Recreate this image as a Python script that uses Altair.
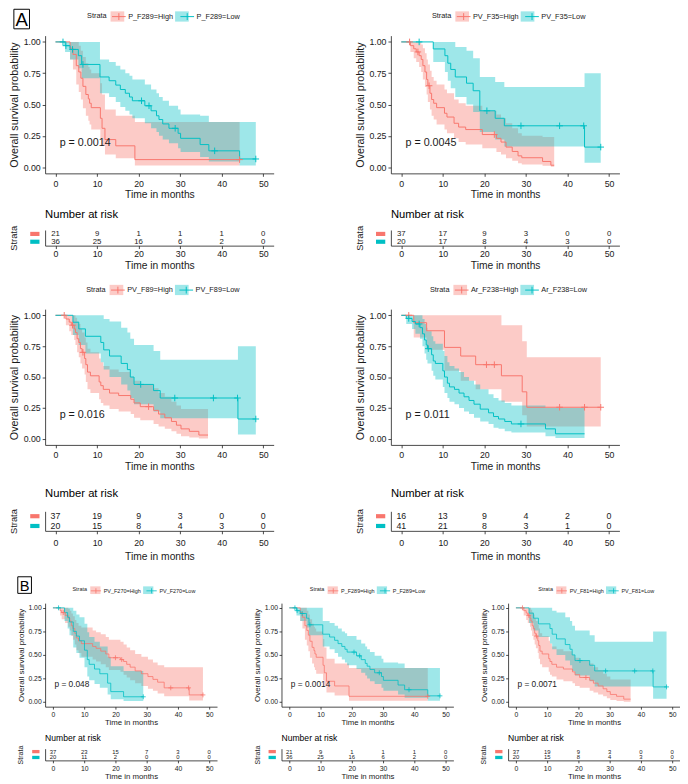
import bisect
import altair as alt
import pandas as pd

FONT = "Liberation Sans"
RED = "#F8766D"
TEAL = "#00BFC4"
INK = "#1a1a1a"
BAND_OPACITY = 0.38

X_TICKS = [0, 10, 20, 30, 40, 50]
Y_TICKS = [0.0, 0.25, 0.50, 0.75, 1.00]
RISK_TIMES = [0, 10, 20, 30, 40, 50]
STRATA_GROUPS = ["High", "Low"]

# ---------------- Panel A1 : P_F289 ----------------
A1_H_T = [0, 3.5, 4.2, 5.0, 5.6, 6.1, 6.6, 7.3, 7.9, 8.2, 8.6, 10.8, 11.2, 11.9, 14.5, 19.1, 44.3]
A1_H_S = [1.0, 0.95, 0.90, 0.81, 0.76, 0.71, 0.645, 0.58, 0.545, 0.51, 0.475, 0.39, 0.31, 0.22, 0.17, 0.06, 0.06]
A1_H_UP = [1.0, 1.0, 1.0, 1.0, 0.97, 0.93, 0.88, 0.83, 0.80, 0.78, 0.75, 0.67, 0.58, 0.46, 0.41, 0.36, 0.36]
A1_H_LO = [1.0, 0.86, 0.78, 0.66, 0.60, 0.54, 0.47, 0.41, 0.37, 0.34, 0.30, 0.23, 0.17, 0.10, 0.07, 0.012, 0.012]
A1_H_CENS = [44.3]
A1_L_T = [0, 2.3, 3.5, 5.5, 6.3, 10.7, 12.9, 14.5, 15.6, 16.8, 17.8, 18.5, 21.5, 23.0, 24.3, 24.9, 25.8, 27.3, 29.5, 30.1, 34.8, 36.9, 44.3, 48.2]
A1_L_S = [1.0, 0.97, 0.94, 0.89, 0.82, 0.72, 0.69, 0.655, 0.62, 0.59, 0.56, 0.53, 0.49, 0.45, 0.41, 0.38, 0.345, 0.31, 0.27, 0.23, 0.18, 0.13, 0.065, 0.065]
A1_L_UP = [1.0, 1.0, 1.0, 1.0, 1.0, 0.86, 0.84, 0.81, 0.78, 0.75, 0.73, 0.70, 0.66, 0.62, 0.59, 0.56, 0.53, 0.49, 0.46, 0.42, 0.41, 0.36, 0.36, 0.36]
A1_L_LO = [1.0, 0.92, 0.86, 0.79, 0.71, 0.59, 0.56, 0.52, 0.48, 0.45, 0.42, 0.39, 0.35, 0.31, 0.28, 0.25, 0.22, 0.19, 0.15, 0.12, 0.08, 0.045, 0.012, 0.012]
A1_L_CENS = [1.8, 2.5, 4.1, 6.6, 20.7, 22.5, 28.8, 38.3, 48.2]
A1_RISK_H = [21, 9, 1, 1, 1, 0]
A1_RISK_L = [36, 25, 16, 6, 2, 0]

# ---------------- Panel A2 : PV_F35 ----------------
A2_H_T = [0, 2.2, 3.0, 3.6, 4.3, 4.8, 5.2, 5.7, 6.1, 6.4, 6.9, 7.3, 7.8, 8.5, 10.4, 11.0, 12.7, 13.8, 15.5, 19.5, 22.9, 24.0, 25.2, 26.7, 28.1, 29.0, 34.0, 36.0, 36.8]
A2_H_S = [1, 0.97, 0.945, 0.92, 0.89, 0.86, 0.81, 0.76, 0.70, 0.65, 0.59, 0.54, 0.51, 0.475, 0.43, 0.40, 0.35, 0.32, 0.30, 0.26, 0.23, 0.20, 0.16, 0.125, 0.09, 0.075, 0.045, 0.015, 0.015]
A2_H_UP = [1, 1, 1, 1, 1, 0.98, 0.95, 0.91, 0.86, 0.82, 0.77, 0.72, 0.69, 0.66, 0.62, 0.59, 0.54, 0.51, 0.49, 0.45, 0.42, 0.39, 0.35, 0.31, 0.27, 0.25, 0.24, 0.24, 0.24]
A2_H_LO = [1, 0.92, 0.87, 0.84, 0.80, 0.76, 0.70, 0.64, 0.58, 0.52, 0.46, 0.41, 0.38, 0.34, 0.30, 0.27, 0.23, 0.20, 0.18, 0.15, 0.12, 0.10, 0.07, 0.05, 0.03, 0.02, 0.01, 0.002, 0.002]
A2_H_CENS = [2.0, 4.0, 6.7, 22.4]
A2_L_T = [0, 7.7, 10.5, 11.2, 11.9, 13.0, 15.7, 17.3, 18.9, 22.6, 24.8, 44.1, 48.0]
A2_L_S = [1, 0.944, 0.89, 0.83, 0.78, 0.72, 0.67, 0.61, 0.45, 0.39, 0.33, 0.16, 0.16]
A2_L_UP = [1, 1, 1, 1, 1, 0.96, 0.93, 0.87, 0.72, 0.68, 0.64, 0.75, 0.75]
A2_L_LO = [1, 0.84, 0.76, 0.69, 0.63, 0.56, 0.50, 0.44, 0.28, 0.22, 0.165, 0.035, 0.035]
A2_L_CENS = [4.3, 20.6, 28.8, 38.1, 43.9, 48.0]
A2_RISK_H = [37, 17, 9, 3, 0, 0]
A2_RISK_L = [20, 17, 8, 4, 3, 0]

# ---------------- Panel A3 : PV_F89 ----------------
A3_H_T = [0, 2.5, 3.3, 3.8, 4.5, 4.8, 5.2, 5.6, 6.0, 6.4, 7.0, 7.3, 7.7, 8.4, 10.5, 10.9, 11.5, 13.0, 15.2, 18.1, 18.9, 20.4, 23.6, 24.8, 26.3, 27.9, 29.1, 30.2, 32.2, 34.5, 36.7]
A3_H_S = [1, 0.97, 0.945, 0.92, 0.89, 0.86, 0.81, 0.78, 0.73, 0.70, 0.65, 0.60, 0.54, 0.51, 0.46, 0.43, 0.40, 0.37, 0.35, 0.32, 0.29, 0.26, 0.23, 0.20, 0.17, 0.14, 0.11, 0.08, 0.06, 0.03, 0.03]
A3_H_UP = [1, 1, 1, 1, 1, 0.98, 0.95, 0.93, 0.89, 0.86, 0.82, 0.78, 0.73, 0.70, 0.65, 0.62, 0.59, 0.56, 0.54, 0.50, 0.47, 0.44, 0.41, 0.37, 0.34, 0.30, 0.27, 0.24, 0.24, 0.24, 0.24]
A3_H_LO = [1, 0.92, 0.87, 0.84, 0.80, 0.76, 0.70, 0.66, 0.61, 0.57, 0.52, 0.46, 0.40, 0.37, 0.32, 0.29, 0.27, 0.24, 0.22, 0.20, 0.17, 0.15, 0.12, 0.10, 0.08, 0.06, 0.04, 0.02, 0.01, 0.002, 0.002]
A3_H_CENS = [2.1, 4.1, 6.6, 22.4]
A3_L_T = [0, 4.2, 5.6, 7.2, 10.9, 11.6, 13.0, 15.8, 17.3, 18.0, 18.9, 23.6, 25.2, 43.9, 48.2]
A3_L_S = [1, 0.944, 0.89, 0.83, 0.78, 0.72, 0.67, 0.61, 0.56, 0.50, 0.44, 0.39, 0.33, 0.16, 0.16]
A3_L_UP = [1, 1, 1, 1, 1, 0.97, 0.95, 0.90, 0.86, 0.81, 0.76, 0.71, 0.64, 0.75, 0.75]
A3_L_LO = [1, 0.84, 0.76, 0.69, 0.62, 0.56, 0.50, 0.44, 0.39, 0.33, 0.28, 0.22, 0.165, 0.035, 0.035]
A3_L_CENS = [20.5, 28.7, 38.0, 43.8, 48.2]
A3_RISK_H = [37, 19, 9, 3, 0, 0]
A3_RISK_L = [20, 15, 8, 4, 3, 0]

# ---------------- Panel A4 : Ar_F238 ----------------
A4_H_T = [0, 3.0, 6.1, 10.4, 14.3, 17.9, 24.1, 29.1, 30.2, 48.0]
A4_H_S = [1.0, 0.94, 0.875, 0.74, 0.67, 0.60, 0.51, 0.38, 0.255, 0.255]
A4_H_UP = [1.0, 1.0, 1.0, 1.0, 1.0, 1.0, 0.92, 0.79, 0.66, 0.66]
A4_H_LO = [1.0, 0.82, 0.72, 0.55, 0.47, 0.40, 0.30, 0.19, 0.10, 0.10]
A4_H_CENS = [1.8, 20.5, 22.4, 38.1, 44.1, 48.0]
A4_L_T = [0, 1.2, 2.6, 3.4, 4.5, 5.1, 5.6, 6.0, 6.3, 7.3, 7.7, 8.2, 10.0, 10.4, 11.1, 11.6, 12.8, 13.9, 15.1, 16.3, 17.5, 19.0, 21.0, 22.2, 23.4, 24.9, 26.5, 34.7, 37.1, 44.1]
A4_L_S = [1, 0.975, 0.95, 0.93, 0.90, 0.85, 0.80, 0.76, 0.73, 0.68, 0.63, 0.61, 0.55, 0.50, 0.45, 0.42, 0.40, 0.37, 0.34, 0.31, 0.28, 0.24, 0.21, 0.18, 0.16, 0.14, 0.12, 0.08, 0.04, 0.04]
A4_L_UP = [1, 1, 1, 1, 1, 0.97, 0.93, 0.90, 0.87, 0.83, 0.79, 0.77, 0.71, 0.67, 0.62, 0.59, 0.57, 0.54, 0.50, 0.47, 0.44, 0.40, 0.36, 0.33, 0.31, 0.29, 0.27, 0.25, 0.25, 0.25]
A4_L_LO = [1, 0.93, 0.89, 0.85, 0.81, 0.75, 0.69, 0.64, 0.61, 0.55, 0.51, 0.48, 0.42, 0.37, 0.33, 0.30, 0.28, 0.25, 0.22, 0.20, 0.17, 0.14, 0.12, 0.09, 0.08, 0.06, 0.05, 0.02, 0.006, 0.006]
A4_L_CENS = [1.8, 4.3, 6.5, 28.8]
A4_RISK_H = [16, 13, 9, 4, 2, 0]
A4_RISK_L = [41, 21, 8, 3, 1, 0]

# ---------------- Panel B1 : PV_F270 ----------------
B1_H_T = [0, 2.3, 2.8, 3.9, 4.9, 5.4, 5.9, 6.4, 7.0, 7.5, 8.2, 9.1, 12.7, 13.8, 15.3, 16.9, 17.9, 21.6, 22.6, 23.6, 24.7, 26.3, 28.3, 30.4, 32.0, 33.5, 35.6, 43.6, 48.0]
B1_H_S = [1, 0.97, 0.95, 0.92, 0.89, 0.86, 0.81, 0.78, 0.73, 0.68, 0.65, 0.62, 0.59, 0.57, 0.54, 0.51, 0.47, 0.45, 0.43, 0.40, 0.37, 0.33, 0.30, 0.27, 0.24, 0.21, 0.15, 0.075, 0.075]
B1_H_UP = [1, 1, 1, 1, 0.99, 0.97, 0.94, 0.91, 0.87, 0.84, 0.81, 0.79, 0.76, 0.74, 0.72, 0.69, 0.66, 0.64, 0.61, 0.58, 0.55, 0.51, 0.48, 0.45, 0.42, 0.39, 0.37, 0.37, 0.37]
B1_H_LO = [1, 0.92, 0.88, 0.84, 0.80, 0.76, 0.70, 0.66, 0.61, 0.55, 0.52, 0.48, 0.45, 0.43, 0.40, 0.37, 0.34, 0.32, 0.29, 0.26, 0.23, 0.20, 0.17, 0.14, 0.12, 0.09, 0.06, 0.015, 0.015]
B1_H_CENS = [3.3, 20.0, 22.0, 37.7, 43.4, 48.0]
B1_L_T = [0, 3.7, 4.7, 5.3, 6.5, 7.5, 8.5, 10.1, 11.0, 11.6, 13.3, 15.0, 17.5, 18.5, 22.6, 28.9]
B1_L_S = [1, 0.95, 0.90, 0.85, 0.75, 0.70, 0.65, 0.55, 0.45, 0.40, 0.35, 0.30, 0.20, 0.11, 0.055, 0.055]
B1_L_UP = [1, 1, 1, 1, 0.97, 0.93, 0.90, 0.83, 0.74, 0.69, 0.64, 0.59, 0.48, 0.38, 0.33, 0.33]
B1_L_LO = [1, 0.86, 0.78, 0.71, 0.58, 0.52, 0.47, 0.37, 0.27, 0.23, 0.19, 0.15, 0.08, 0.03, 0.01, 0.01]
B1_L_CENS = [1.8, 28.9]
B1_RISK_H = [37, 23, 15, 7, 3, 0]
B1_RISK_L = [20, 11, 2, 0, 0, 0]

# B2 (P_F289) shows the same curves as A1; B3 (PV_F81) the same as A3.

PLUS_PATH = "M-1,0H1M0,-1V1"
KEY_LINE_PATH = "M-1,0H1M0,-0.5V0.5"
KEY_BOX_PATH = "M-1,-0.75H1V0.75H-1Z"
KEY_BAR_PATH = "M-1,-0.45H1V0.45H-1Z"

# Arial / Liberation Sans advance widths (1/1000 em), used only to line up the two legend layers
GLYPH_W = {"P": 667, "_": 556, "F": 611, "V": 667, "A": 667, "r": 333, "=": 584, "H": 722,
           "i": 222, "g": 556, "h": 556, "L": 556, "o": 556, "w": 722, "S": 667, "t": 278,
           "a": 556}


def text_w(s, size):
    return sum(GLYPH_W.get(c, 556) for c in s) * size / 1000.0


STY_A = dict(W=234, tick_font=9, ytitle_font=11, xtitle_font=10.5, tick=3, xlab_pad=3, ylab_pad=2,
             xtitle_pad=2, ytitle_pad=2, yext=24, leg_font=7.5, leg_sym=196, leg_y=-27,
             leg_tpad=4, leg_cpad=4, p_font=11, px=1.0, lw=1.0, cens=45, nar_font=11.5,
             strata_font=9.5, strata_pad=3.5, bar_size=90, bar_off=10.5,
             box=(-32, -16, -27, -7), box_font=19)
STY_B = dict(W=176, tick_font=7, ytitle_font=8.2, xtitle_font=8, tick=2.5, xlab_pad=2, ylab_pad=1.5,
             xtitle_pad=1, ytitle_pad=2, yext=18, leg_font=5.6, leg_sym=110, leg_y=-19,
             leg_tpad=3, leg_cpad=3, p_font=8.5, px=0.5, lw=0.8, cens=25, nar_font=8.8,
             strata_font=7.2, strata_pad=3, bar_size=56, bar_off=9.5,
             box=(-28, -14, -27, -10), box_font=15)

ROW1 = dict(H=141, rh=16, sp=8, toff=5, rlab_pad=1, rtitle_pad=2, rfont=8)
ROW2 = dict(H=139, rh=20, sp=16, toff=9, rlab_pad=5, rtitle_pad=4, rfont=9)
ROWB = dict(H=106, rh=12, sp=7, toff=2, rlab_pad=2, rtitle_pad=1, rfont=6)

XS = dict(domain=[-2.5, 52.5], nice=False, zero=False)
YS = dict(domain=[-0.05, 1.05], nice=False, zero=False)


def curves_df(var, high, low):
    rows = []
    for grp, arrs in zip(STRATA_GROUPS, (high, low)):
        lab = f"{var}={grp}"
        t, s, up, lo, _ = arrs
        assert len(t) == len(s) == len(up) == len(lo), (var, grp)
        for a, b, c, d in zip(t, s, up, lo):
            rows.append({"t": a, "S": b, "up": c, "lo": d, "strata": lab, "strata_f": lab})
    return pd.DataFrame(rows)


def censor_df(var, high, low):
    rows = []
    for grp, arrs in zip(STRATA_GROUPS, (high, low)):
        lab = f"{var}={grp}"
        t, s, _, _, cens = arrs
        for c in cens:
            i = max(bisect.bisect_right(t, c) - 1, 0)
            rows.append({"t": c, "S": s[i], "strata": lab})
    return pd.DataFrame(rows)


AX_COMMON = dict(grid=False, domainColor=INK, tickColor=INK, labelColor=INK, titleColor=INK,
                 labelFont=FONT, titleFont=FONT, titleFontWeight="normal",
                 domainWidth=0.8, tickWidth=0.8)


def km_chart(P, S, R):
    W = S["W"]
    cur = curves_df(P["var"], P["high"], P["low"])
    cen = censor_df(P["var"], P["high"], P["low"])
    xax = alt.Axis(values=X_TICKS, title="Time in months", labelFontSize=S["tick_font"],
                   titleFontSize=S["xtitle_font"], tickSize=S["tick"],
                   labelPadding=S["xlab_pad"], titlePadding=S["xtitle_pad"], **AX_COMMON)
    yax = alt.Axis(values=Y_TICKS, format=".2f", title="Overall survival probability",
                   labelFontSize=S["tick_font"], titleFontSize=S["ytitle_font"], tickSize=S["tick"],
                   labelPadding=S["ylab_pad"], titlePadding=S["ytitle_pad"],
                   minExtent=S["yext"], maxExtent=S["yext"], **AX_COMMON)
    lab_hi = f"{P['var']}=High"
    fs = S["leg_font"]
    leg_line = alt.Legend(orient="none", legendX=P["lx"], legendY=S["leg_y"],
                          direction="horizontal", title="Strata", titleOrient="left",
                          titleAnchor="middle", titleBaseline="middle", titleFontSize=fs,
                          titleFontWeight="normal", titleFont=FONT, titleColor=INK,
                          titlePadding=S["leg_tpad"], labelFontSize=fs, labelFont=FONT,
                          labelColor=INK, labelOffset=2, columnPadding=S["leg_cpad"],
                          symbolSize=S["leg_sym"], symbolType=KEY_LINE_PATH,
                          symbolStrokeWidth=S["lw"], symbolOpacity=1, padding=0,
                          labelLimit=400, titleLimit=400)
    leg_box = alt.Legend(orient="none",
                         legendX=P["lx"] + text_w("Strata", fs) + S["leg_tpad"],
                         legendY=S["leg_y"], direction="horizontal", title=None,
                         labelExpr="''", labelOffset=0,
                         columnPadding=2 + text_w(lab_hi, fs) + S["leg_cpad"],
                         symbolSize=S["leg_sym"], symbolType=KEY_BOX_PATH, symbolStrokeWidth=0,
                         symbolOpacity=BAND_OPACITY, padding=0)
    xenc = alt.X("t:Q", scale=alt.Scale(**XS), axis=xax)

    band = alt.Chart(cur).mark_area(interpolate="step-after", opacity=BAND_OPACITY).encode(
        x=xenc,
        y=alt.Y("lo:Q", scale=alt.Scale(**YS), axis=yax),
        y2="up:Q",
        fill=alt.Fill("strata_f:N", scale=alt.Scale(range=[RED, TEAL]), legend=leg_box),
    )
    line = alt.Chart(cur).mark_line(interpolate="step-after", strokeWidth=S["lw"]).encode(
        x=xenc,
        y=alt.Y("S:Q", scale=alt.Scale(**YS), axis=yax),
        stroke=alt.Stroke("strata:N", scale=alt.Scale(range=[RED, TEAL]), legend=leg_line),
    )
    cens = alt.Chart(cen).mark_point(shape=PLUS_PATH, size=S["cens"], strokeWidth=S["lw"],
                                     filled=False, opacity=1).encode(
        x=xenc,
        y=alt.Y("S:Q", scale=alt.Scale(**YS), axis=yax),
        stroke=alt.Stroke("strata:N", scale=alt.Scale(range=[RED, TEAL]), legend=None),
    )
    pdf = pd.DataFrame({"t": [S["px"]], "S": [0.19], "label": [f"p = {P['p']}"]})
    ptxt = alt.Chart(pdf).mark_text(align="left", baseline="middle", fontSize=S["p_font"],
                                    font=FONT, color=INK).encode(
        x=xenc, y=alt.Y("S:Q", scale=alt.Scale(**YS), axis=yax), text="label:N")

    layers = [band, line, cens, ptxt]
    bx0, bx1, by0, by1 = S["box"]
    bdf = pd.DataFrame({"lab": [P["box"]]})
    if P["show_box"]:
        layers.append(alt.Chart(bdf).mark_rect(fill="transparent", stroke="#000000",
                                               strokeWidth=1).encode(
            x=alt.value(bx0), x2=alt.value(bx1), y=alt.value(by0), y2=alt.value(by1)))
        layers.append(alt.Chart(bdf).mark_text(fontSize=S["box_font"], font=FONT, align="center",
                                               baseline="middle", color="#000000").encode(
            x=alt.value((bx0 + bx1) / 2), y=alt.value((by0 + by1) / 2 + 1), text="lab:N"))
    else:
        # invisible spacer so that all panels of a row share the same top edge
        layers.append(alt.Chart(bdf).mark_rect(fill="transparent", strokeOpacity=0).encode(
            x=alt.value(bx0), x2=alt.value(bx1), y=alt.value(by0), y2=alt.value(by1)))

    return alt.layer(*layers).properties(width=W, height=R["H"])


def risk_chart(P, S, R):
    W = S["W"]
    df = pd.DataFrame({
        "time": RISK_TIMES * 2,
        "grp": [STRATA_GROUPS[0]] * len(RISK_TIMES) + [STRATA_GROUPS[1]] * len(RISK_TIMES),
        "n": P["rh"] + P["rl"],
    })
    xax = alt.Axis(values=X_TICKS, title="Time in months", labelFontSize=S["tick_font"],
                   titleFontSize=S["xtitle_font"], tickSize=S["tick"],
                   labelPadding=R["rlab_pad"], titlePadding=R["rtitle_pad"], **AX_COMMON)
    yax = alt.Axis(title="Strata", labels=False, ticks=False, minExtent=S["yext"],
                   maxExtent=S["yext"], titleFontSize=S["strata_font"],
                   titlePadding=S["strata_pad"], titleFontWeight="normal", titleFont=FONT,
                   titleColor=INK, domainColor=INK, domainWidth=0.8, grid=False)
    yenc = alt.Y("grp:N", scale=alt.Scale(domain=STRATA_GROUPS), axis=yax)
    nums = alt.Chart(df).mark_text(font=FONT, fontSize=R["rfont"], color=INK,
                                   baseline="middle").encode(
        x=alt.X("time:Q", scale=alt.Scale(**XS), axis=xax),
        y=yenc,
        text="n:Q",
    )
    keys = alt.Chart(pd.DataFrame({"grp": STRATA_GROUPS})).mark_point(
        shape=KEY_BAR_PATH, filled=True, size=S["bar_size"], opacity=1, strokeWidth=0).encode(
        x=alt.value(-S["bar_off"]),
        y=yenc,
        fill=alt.Fill("grp:N", scale=alt.Scale(domain=STRATA_GROUPS, range=[RED, TEAL]),
                      legend=None),
    )
    return alt.layer(nums, keys).properties(
        width=W, height=R["rh"],
        title=alt.TitleParams("Number at risk", anchor="start", frame="group",
                              fontSize=S["nar_font"], fontWeight="normal", font=FONT,
                              color="#000000", offset=R["toff"]))


def indep(ch):
    return ch.resolve_scale(fill="independent", stroke="independent")


def panel(P, S, R):
    return indep(alt.vconcat(km_chart(P, S, R), risk_chart(P, S, R), spacing=R["sp"]))


def arr(prefix, g):
    d = globals()
    return (d[f"{prefix}_{g}_T"], d[f"{prefix}_{g}_S"], d[f"{prefix}_{g}_UP"],
            d[f"{prefix}_{g}_LO"], d[f"{prefix}_{g}_CENS"])


PANELS = {
    "A1": dict(var="P_F289", p="0.0014", high=arr("A1", "H"), low=arr("A1", "L"),
               rh=A1_RISK_H, rl=A1_RISK_L, lx=43, box="A", show_box=True),
    "A2": dict(var="PV_F35", p="0.0045", high=arr("A2", "H"), low=arr("A2", "L"),
               rh=A2_RISK_H, rl=A2_RISK_L, lx=42, box="A", show_box=False),
    "A3": dict(var="PV_F89", p="0.016", high=arr("A3", "H"), low=arr("A3", "L"),
               rh=A3_RISK_H, rl=A3_RISK_L, lx=42, box="A", show_box=False),
    "A4": dict(var="Ar_F238", p="0.011", high=arr("A4", "H"), low=arr("A4", "L"),
               rh=A4_RISK_H, rl=A4_RISK_L, lx=40, box="A", show_box=False),
    "B1": dict(var="PV_F270", p="0.048", high=arr("B1", "H"), low=arr("B1", "L"),
               rh=B1_RISK_H, rl=B1_RISK_L, lx=28, box="B", show_box=True),
    "B2": dict(var="P_F289", p="0.0014", high=arr("A1", "H"), low=arr("A1", "L"),
               rh=A1_RISK_H, rl=A1_RISK_L, lx=29, box="B", show_box=False),
    "B3": dict(var="PV_F81", p="0.0071", high=arr("A3", "H"), low=arr("A3", "L"),
               rh=A3_RISK_H, rl=A3_RISK_L, lx=31, box="B", show_box=False),
}

row_a1 = indep(alt.hconcat(panel(PANELS["A1"], STY_A, ROW1), panel(PANELS["A2"], STY_A, ROW1),
                           spacing=82))
row_a2 = indep(alt.hconcat(panel(PANELS["A3"], STY_A, ROW2), panel(PANELS["A4"], STY_A, ROW2),
                           spacing=82))
row_b = indep(alt.hconcat(
    indep(alt.hconcat(panel(PANELS["B1"], STY_B, ROWB), panel(PANELS["B2"], STY_B, ROWB),
                      spacing=37)),
    panel(PANELS["B3"], STY_B, ROWB), spacing=27))

top_rows = indep(alt.vconcat(row_a1, row_a2, spacing=12))
chart = indep(alt.vconcat(top_rows, row_b, spacing=14)).properties(
    padding={"top": -9, "left": 0, "right": 0, "bottom": 0}, background="white"
).configure_view(strokeWidth=0)

chart.save("out.html", embed_options={"renderer": "svg", "actions": False})
